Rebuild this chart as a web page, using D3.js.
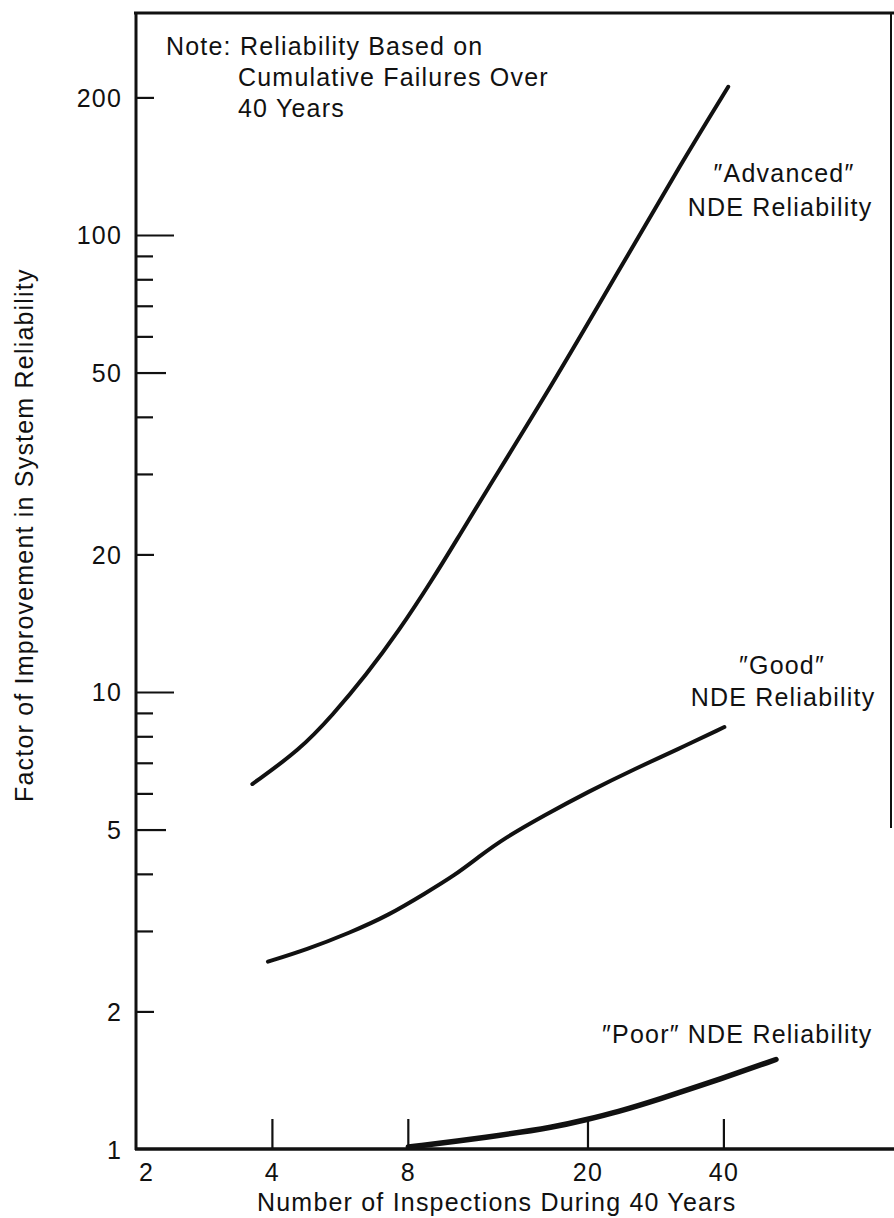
<!DOCTYPE html>
<html>
<head>
<meta charset="utf-8">
<script src="https://cdn.jsdelivr.net/npm/d3@7/dist/d3.min.js"></script>
<style>
  html, body { margin: 0; padding: 0; background: #fff; }
  svg { display: block; }
  text { font-family: "Liberation Sans", Arial, Helvetica, sans-serif; fill: #111; }
</style>
</head>
<body>
<svg id="chart" width="894" height="1218"></svg>
<script>
// ---- data ----
const advancedX = [3.62, 4.61, 5.45, 6.47, 7.64, 9.03, 10.35, 11.6, 16.6, 23.3, 32.6, 41.0];
const advancedY = [6.29, 7.47, 8.9, 10.9, 13.6, 17.5, 21.8, 26.3, 46.5, 82.6, 146, 211];

const goodX = [3.92, 4.77, 5.94, 7.27, 8.76, 10.2, 11.46, 13.1, 16.1, 20.0, 25.7, 31.5, 40.2];
const goodY = [2.57, 2.73, 2.97, 3.25, 3.63, 3.98, 4.35, 4.79, 5.38, 6.04, 6.82, 7.47, 8.38];

const poorX = [8.02, 12.0, 17.2, 19.7, 23.3, 28.5, 40.0, 52.3];
const poorY = [1.01, 1.06, 1.12, 1.157, 1.205, 1.28, 1.43, 1.57];

const yLabelTicks = [1, 2, 5, 10, 20, 50, 100, 200];
const yTicksLong = [10, 100];
const yTicksMid = [5, 50];
const yTicksShort = [2, 20, 200];
const yTicksMinor = [3, 4, 6, 7, 8, 9, 30, 40, 60, 70, 80, 90];

const xLabelTicks = [2, 4, 8, 20, 40];
const xTicks = [4, 8, 20, 40];

const noteLines = ["Note: Reliability Based on", "Cumulative Failures Over", "40 Years"];
const xTitle = "Number of Inspections During 40 Years";
const yTitle = "Factor of Improvement in System Reliability";
const advLabel = ["\u2033Advanced\u2033", "NDE Reliability"];
const goodLabel = ["\u2033Good\u2033", "NDE Reliability"];
const poorLabel = "\u2033Poor\u2033 NDE Reliability";

// ---- layout ----
const svg = d3.select("#chart");
svg.append("rect").attr("width", 894).attr("height", 1218).attr("fill", "#fff");

const x = d3.scaleLog().domain([2, 95]).range([136, 893]);
const y = d3.scaleLog().domain([1, 306]).range([1149, 13]);

const FS = 25, LS = "1.2px";

// frame: top border, right border fragment
svg.append("line").attr("x1", x(2) - 2).attr("x2", 894).attr("y1", y(306)).attr("y2", y(306))
  .attr("stroke", "#111").attr("stroke-width", 3);
svg.append("line").attr("x1", 891).attr("x2", 891).attr("y1", y(306)).attr("y2", 828)
  .attr("stroke", "#111").attr("stroke-width", 2);

// y axis ticks (pointing inward)
function yTickGroup(vals, len) {
  const g = svg.append("g").attr("transform", `translate(${x(2)},0)`)
    .call(d3.axisRight(y).tickValues(vals).tickSize(len).tickFormat(""));
  g.select(".domain").remove();
  g.selectAll(".tick line").attr("stroke", "#111").attr("stroke-width", 2.2);
}
yTickGroup(yTicksLong, 38);
yTickGroup(yTicksMid, 30);
yTickGroup(yTicksShort, 18);
yTickGroup(yTicksMinor, 17);

// y axis line
svg.append("line").attr("x1", x(2)).attr("x2", x(2)).attr("y1", y(306) - 1).attr("y2", y(1) + 1)
  .attr("stroke", "#111").attr("stroke-width", 3);

// y labels
const yl = svg.append("g").attr("transform", `translate(${x(2) - 14},0)`)
  .call(d3.axisLeft(y).tickValues(yLabelTicks).tickSize(0).tickPadding(0).tickFormat(d3.format("d")));
yl.select(".domain").remove();
yl.selectAll("text").attr("font-size", FS).style("letter-spacing", LS)
  .attr("font-family", null).attr("dy", "0.36em");

// x axis ticks (pointing up)
const xt = svg.append("g").attr("transform", `translate(0,${y(1)})`)
  .call(d3.axisTop(x).tickValues(xTicks).tickSize(30).tickFormat(""));
xt.select(".domain").remove();
xt.selectAll(".tick line").attr("stroke", "#111").attr("stroke-width", 2.2);

// x axis line
svg.append("line").attr("x1", x(2) - 1).attr("x2", 894).attr("y1", y(1)).attr("y2", y(1))
  .attr("stroke", "#111").attr("stroke-width", 3.5);

// x labels
const xl = svg.append("g").attr("transform", `translate(0,${y(1)})`)
  .call(d3.axisBottom(x).tickValues(xLabelTicks).tickSize(0).tickPadding(14).tickFormat(d3.format("d")));
xl.select(".domain").remove();
xl.selectAll("text").attr("font-size", FS).style("letter-spacing", LS).attr("font-family", null);
xl.selectAll(".tick").filter(d => d === 2).select("text").attr("dx", 10);

// curves
const line = d3.line().x(d => x(d[0])).y(d => y(d[1])).curve(d3.curveBasis);
function drawCurve(xs, ys, w) {
  svg.append("path").datum(xs.map((v, i) => [v, ys[i]]))
    .attr("d", line).attr("fill", "none").attr("stroke", "#111")
    .attr("stroke-width", w).attr("stroke-linecap", "round").attr("stroke-linejoin", "round");
}
drawCurve(advancedX, advancedY, 4);
drawCurve(goodX, goodY, 4);
drawCurve(poorX, poorY, 5.5);

// texts
function txt(s, tx, ty, anchor) {
  return svg.append("text").attr("x", tx).attr("y", ty).attr("font-size", FS)
    .style("letter-spacing", LS).attr("text-anchor", anchor || "start").text(s);
}
txt(noteLines[0], 166, 55);
txt(noteLines[1], 238, 86);
txt(noteLines[2], 238, 117);

txt(advLabel[0], 784, 182, "middle");
txt(advLabel[1], 780, 216, "middle");
txt(goodLabel[0], 782, 674, "middle");
txt(goodLabel[1], 783, 706, "middle");
txt(poorLabel, 602, 1043);

txt(xTitle, 257, 1211);
svg.append("text").attr("transform", "translate(33,802) rotate(-90)")
  .attr("font-size", FS).style("letter-spacing", LS).text(yTitle);
</script>
</body>
</html>
